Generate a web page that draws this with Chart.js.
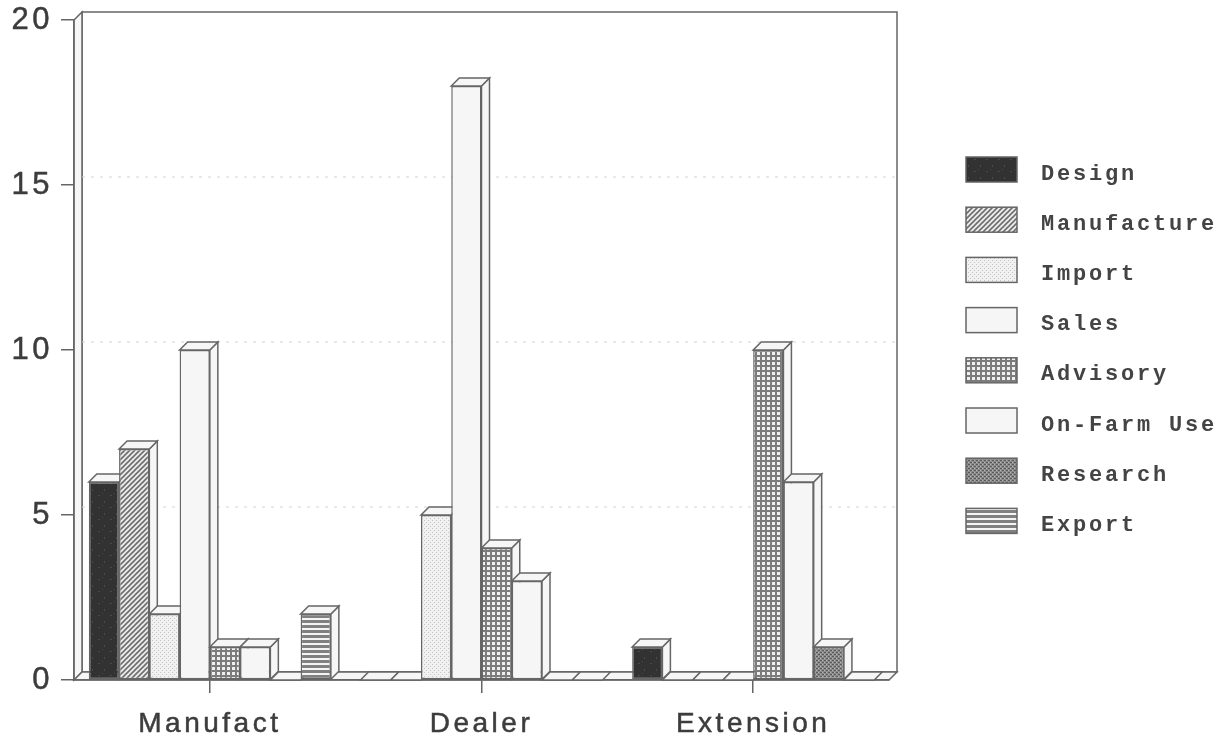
<!DOCTYPE html>
<html>
<head>
<meta charset="utf-8">
<style>
  html, body { margin: 0; background: #fff; }
  canvas { display: block; filter: blur(0.6px); }
</style>
<script src="https://cdn.jsdelivr.net/npm/chart.js@4/dist/chart.umd.min.js"></script>
</head>
<body>
<canvas id="chart" width="1231" height="740"></canvas>
<script>
const categories = ['Manufact', 'Dealer', 'Extension'];
const seriesNames = ['Design', 'Manufacture', 'Import', 'Sales', 'Advisory', 'On-Farm Use', 'Research', 'Export'];
const design = [6, 0, 1];
const manufacture = [7, 0, 0];
const importing = [2, 5, 0];
const sales = [10, 18, 0];
const advisory = [1, 4, 10];
const onFarmUse = [1, 3, 6];
const research = [0, 0, 1];
const exporting = [2, 0, 0];
const yTicks = [0, 5, 10, 15, 20];

const DEPTH = 8;
const LINE = '#666666';
const FACE = '#f6f6f6';

// small tiles for the scanned fill textures
function tile(w, h, paint) {
  const c = document.createElement('canvas');
  c.width = w;
  c.height = h;
  paint(c.getContext('2d'));
  return document.getElementById('chart').getContext('2d').createPattern(c, 'repeat');
}

const fills = [
  tile(12, 12, g => {
    g.fillStyle = '#323232'; g.fillRect(0, 0, 12, 12);
    g.fillStyle = '#4a4a4a'; g.fillRect(2, 3, 2, 1); g.fillRect(8, 9, 1, 2); g.fillRect(6, 1, 1, 1);
  }),
  tile(5, 5, g => {
    g.fillStyle = '#ececec'; g.fillRect(0, 0, 5, 5);
    g.strokeStyle = '#6e6e6e'; g.lineWidth = 1.6;
    g.beginPath();
    g.moveTo(-1, 6); g.lineTo(6, -1);
    g.moveTo(-1, 1); g.lineTo(1, -1);
    g.moveTo(4, 6); g.lineTo(6, 4);
    g.stroke();
  }),
  tile(4, 4, g => {
    g.fillStyle = '#f1f1f1'; g.fillRect(0, 0, 4, 4);
    g.fillStyle = '#c4c4c4'; g.fillRect(0, 0, 1, 1); g.fillRect(2, 2, 1, 1);
  }),
  FACE,
  tile(5, 5, g => {
    g.fillStyle = '#f0f0f0'; g.fillRect(0, 0, 5, 5);
    g.fillStyle = '#7c7c7c'; g.fillRect(0, 0, 5, 2); g.fillRect(0, 0, 2, 5);
  }),
  FACE,
  tile(4, 4, g => {
    g.fillStyle = '#8c8c8c'; g.fillRect(0, 0, 4, 4);
    g.fillStyle = '#5a5a5a'; g.fillRect(0, 0, 2, 1); g.fillRect(2, 2, 2, 1);
    g.fillStyle = '#b4b4b4'; g.fillRect(2, 0, 1, 1); g.fillRect(0, 2, 1, 1);
  }),
  tile(4, 5, g => {
    g.fillStyle = '#f4f4f4'; g.fillRect(0, 0, 4, 5);
    g.fillStyle = '#808080'; g.fillRect(0, 0, 4, 3);
  })
];

const seriesValues = [design, manufacture, importing, sales, advisory, onFarmUse, research, exporting];

function poly(ctx, pts, fill) {
  ctx.beginPath();
  pts.forEach((p, i) => i ? ctx.lineTo(p[0], p[1]) : ctx.moveTo(p[0], p[1]));
  ctx.closePath();
  if (fill) {
    ctx.fillStyle = fill;
    ctx.fill();
  }
  ctx.stroke();
}

const box3d = {
  id: 'box3d',
  beforeDraw(chart) {
    const { ctx, chartArea: a, scales: { y } } = chart;
    ctx.letterSpacing = '3.5px';
    ctx.save();
    ctx.strokeStyle = LINE;
    ctx.lineWidth = 1.5;
    // left wall, floor and back wall
    poly(ctx, [[a.left + DEPTH, a.top - DEPTH], [a.right + DEPTH, a.top - DEPTH], [a.right + DEPTH, a.bottom - DEPTH], [a.left + DEPTH, a.bottom - DEPTH]], '#fff');
    poly(ctx, [[a.left, a.top], [a.left + DEPTH, a.top - DEPTH], [a.left + DEPTH, a.bottom - DEPTH], [a.left, a.bottom]], FACE);
    poly(ctx, [[a.left, a.bottom], [a.left + DEPTH, a.bottom - DEPTH], [a.right + DEPTH, a.bottom - DEPTH], [a.right, a.bottom]], FACE);
    ctx.strokeStyle = '#d2d2d2';
    ctx.lineWidth = 1;
    ctx.setLineDash([3, 6]);
    yTicks.slice(1, -1).forEach(v => {
      const py = y.getPixelForValue(v) - DEPTH;
      ctx.beginPath();
      ctx.moveTo(a.left + DEPTH, py);
      ctx.lineTo(a.right + DEPTH, py);
      ctx.stroke();
    });
    ctx.restore();
  },
  beforeDatasetsDraw(chart) {
    const ctx = chart.ctx;
    ctx.save();
    ctx.strokeStyle = LINE;
    ctx.lineWidth = 1.5;
    // left to right so each front face covers its neighbour's side
    chart.data.datasets.forEach((ds, i) => {
      chart.getDatasetMeta(i).data.forEach(bar => {
        const l = bar.x - bar.width / 2, r = bar.x + bar.width / 2;
        if (bar.y < bar.base) {
          poly(ctx, [[r, bar.y], [r + DEPTH, bar.y - DEPTH], [r + DEPTH, bar.base - DEPTH], [r, bar.base]], FACE);
        }
        poly(ctx, [[l, bar.y], [l + DEPTH, bar.y - DEPTH], [r + DEPTH, bar.y - DEPTH], [r, bar.y]], FACE);
        bar.draw(ctx);
      });
    });
    ctx.restore();
  },
  beforeDatasetDraw() {
    return false;
  },
  afterDraw(chart) {
    const ctx = chart.ctx;
    ctx.save();
    ctx.letterSpacing = '2.8px';
    ctx.font = 'bold 22px "Liberation Mono"';
    ctx.textBaseline = 'middle';
    ctx.strokeStyle = LINE;
    ctx.lineWidth = 1.5;
    chart.data.datasets.forEach((ds, i) => {
      const top = 157 + i * 50.2;
      ctx.fillStyle = ds.backgroundColor;
      ctx.fillRect(966, top, 51, 25);
      ctx.strokeRect(966, top, 51, 25);
      ctx.fillStyle = '#444';
      ctx.fillText(ds.label, 1041, top + 17);
    });
    ctx.restore();
  }
};

new Chart(document.getElementById('chart'), {
  type: 'bar',
  data: {
    labels: categories,
    datasets: seriesNames.map((name, i) => ({
      label: name,
      data: seriesValues[i],
      backgroundColor: fills[i],
      borderColor: LINE,
      borderWidth: 1.5,
      borderSkipped: false
    }))
  },
  options: {
    responsive: false,
    animation: false,
    categoryPercentage: 0.891,
    barPercentage: 1,
    layout: { padding: { top: 20, right: 342, left: 0, bottom: 0 } },
    plugins: {
      legend: { display: false },
      tooltip: { enabled: false }
    },
    scales: {
      x: {
        afterFit: s => { s.height = 60; s.paddingLeft = 0; s.paddingRight = 0; },
        grid: { offset: false, drawOnChartArea: false, tickLength: 13, color: LINE, lineWidth: 1.5 },
        border: { color: LINE, width: 1.5 },
        ticks: { color: '#3c3c3c', padding: 14, maxRotation: 0, textStrokeColor: '#3c3c3c', textStrokeWidth: 0.5, font: { family: '"Liberation Sans"', size: 28 } }
      },
      y: {
        min: 0,
        max: 20,
        afterFit: s => { s.width = 74; s.paddingTop = 0; s.paddingBottom = 0; },
        afterBuildTicks: s => { s.ticks = yTicks.map(value => ({ value })); },
        grid: { drawOnChartArea: false, tickLength: 13, color: LINE, lineWidth: 1.5 },
        border: { color: LINE, width: 1.5 },
        ticks: { color: '#3c3c3c', padding: 8, textStrokeColor: '#3c3c3c', textStrokeWidth: 0.5, font: { family: '"Liberation Sans"', size: 31 } }
      }
    }
  },
  plugins: [box3d]
});
</script>
</body>
</html>
